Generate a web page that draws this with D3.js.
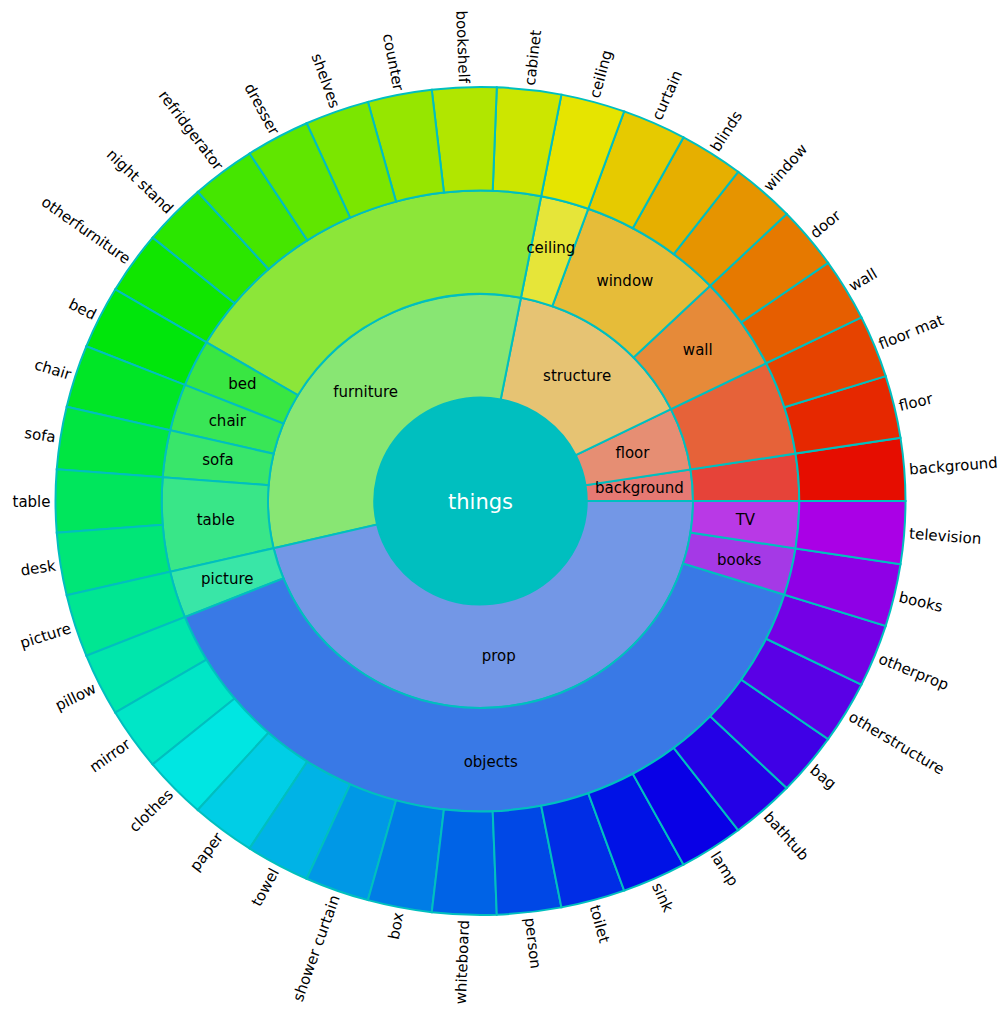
<!DOCTYPE html>
<html>
<head>
<meta charset="utf-8">
<script src="https://cdn.jsdelivr.net/npm/d3@7"></script>
<style>
  body { margin: 0; background: #fff; }
  text { font-family: "DejaVu Sans", sans-serif; }
</style>
</head>
<body>
<svg id="chart" width="1004" height="1011"></svg>
<script>
// Class hierarchy: things -> 4-class grouping -> 13-class grouping -> 40-class labels
const rootName = "things";

const innerNames = ["background", "floor", "structure", "furniture", "prop"];

const midNames = ["background", "floor", "wall", "window", "ceiling", "furniture",
  "bed", "chair", "sofa", "table", "picture", "objects", "books", "TV"];
const midParent = ["background", "floor", "structure", "structure", "structure", "furniture",
  "furniture", "furniture", "furniture", "furniture", "prop", "prop", "prop", "prop"];

const leafNames = ["background", "floor", "floor mat", "wall", "door", "window", "blinds",
  "curtain", "ceiling", "cabinet", "bookshelf", "counter", "shelves", "dresser",
  "refridgerator", "night stand", "otherfurniture", "bed", "chair", "sofa", "table", "desk",
  "picture", "pillow", "mirror", "clothes", "paper", "towel", "shower curtain", "box",
  "whiteboard", "person", "toilet", "sink", "lamp", "bathtub", "bag", "otherstructure",
  "otherprop", "books", "television"];
const leafParent = ["background", "floor", "floor", "wall", "wall", "window", "window",
  "window", "ceiling", "furniture", "furniture", "furniture", "furniture", "furniture",
  "furniture", "furniture", "furniture", "bed", "chair", "sofa", "table", "table",
  "picture", "objects", "objects", "objects", "objects", "objects", "objects", "objects",
  "objects", "objects", "objects", "objects", "objects", "objects", "objects", "objects",
  "objects", "books", "TV"];
const leafValues = [1, 1, 1, 1, 1, 1, 1, 1, 1, 1, 1, 1, 1, 1, 1, 1, 1, 1, 1, 1, 1,
  1, 1, 1, 1, 1, 1, 1, 1, 1, 1, 1, 1, 1, 1, 1, 1, 1, 1, 1, 1];

// ---- layout constants ----
const cx = 480.5, cy = 501;
const ringWidth = 106.25;
const squash = 0.974;          // vertical aspect of the plot area
const labelCy = 501.5, labelSquash = 0.985;
const centerColor = "#00bfbf";
const edgeColor = "#00bfbf";

// ---- build nested tree ----
const tree = {
  name: rootName,
  children: innerNames.map(g => ({
    name: g,
    children: midNames.filter((m, i) => midParent[i] === g).map(m => ({
      name: m,
      children: leafNames
        .map((l, j) => ({ name: l, value: leafValues[j], parent: leafParent[j], idx: j }))
        .filter(l => l.parent === m)
    }))
  }))
};

const root = d3.hierarchy(tree).sum(d => d.children ? 0 : d.value);
d3.partition().size([1, 4])(root);

const nLeaves = root.leaves().length;

// HSV -> hex colour
function hsv(h, s, v) {
  const c = v * s, hp = (h % 360) / 60, x = c * (1 - Math.abs(hp % 2 - 1));
  let r = 0, g = 0, b = 0;
  if (hp < 1) [r, g, b] = [c, x, 0];
  else if (hp < 2) [r, g, b] = [x, c, 0];
  else if (hp < 3) [r, g, b] = [0, c, x];
  else if (hp < 4) [r, g, b] = [0, x, c];
  else if (hp < 5) [r, g, b] = [x, 0, c];
  else [r, g, b] = [c, 0, x];
  const m = v - c;
  return d3.rgb((r + m) * 255, (g + m) * 255, (b + m) * 255).formatHex();
}

// hue taken at the centre of each leaf's slot, over 80% of the hue wheel
const leafHue = i => (i + 0.5) / nLeaves * 0.8 * 360;
const satByDepth = { 1: 0.5, 2: 0.75, 3: 1.0 };

function nodeColor(d) {
  if (d.depth === 0) return centerColor;
  const hue = d3.mean(d.leaves(), l => leafHue(l.data.idx));
  return hsv(hue, satByDepth[d.depth], 0.9);
}

// angle scale: partition x in [0,1] -> counter-clockwise from 3 o'clock
const ang = d3.scaleLinear().domain([0, 1]).range([Math.PI / 2, Math.PI / 2 - 2 * Math.PI]);
const rad = d3.scaleLinear().domain([0, 4]).range([0, 4 * ringWidth]);
const theta = x => x * 2 * Math.PI;   // math angle (ccw from +x)

const arc = d3.arc()
  .startAngle(d => ang(d.x0))
  .endAngle(d => ang(d.x1))
  .innerRadius(d => rad(d.y0))
  .outerRadius(d => rad(d.y1));

const svg = d3.select("#chart");

const shapes = svg.append("g")
  .attr("transform", `translate(${cx},${cy}) scale(1,${squash})`);

shapes.selectAll("path")
  .data(root.descendants())
  .join("path")
  .attr("d", arc)
  .attr("fill", nodeColor)
  .attr("stroke", edgeColor)
  .attr("stroke-width", 2)
  .attr("vector-effect", "non-scaling-stroke");

const labels = svg.append("g").attr("transform", `translate(${cx},${labelCy})`);

// center title
labels.append("text")
  .attr("x", 0).attr("y", 0)
  .attr("text-anchor", "middle")
  .attr("dominant-baseline", "central")
  .attr("font-size", 21)
  .attr("fill", "#fff")
  .text(root.data.name);

// inner ring labels (skip when same as parent)
const inner = root.descendants().filter(d => d.depth > 0 && d.children &&
  d.data.name !== d.parent.data.name);
labels.selectAll("text.inner")
  .data(inner)
  .join("text")
  .attr("class", "inner")
  .attr("x", d => rad((d.y0 + d.y1) / 2) * Math.cos(theta((d.x0 + d.x1) / 2)))
  .attr("y", d => -labelSquash * rad((d.y0 + d.y1) / 2) * Math.sin(theta((d.x0 + d.x1) / 2)))
  .attr("dy", "0.26em")
  .attr("text-anchor", "middle")
  .attr("font-size", 15)
  .attr("fill", "#000")
  .text(d => d.data.name);

// outer labels, radial
const outerR = rad(4) + 5;
labels.selectAll("text.leaf")
  .data(root.leaves())
  .join("text")
  .attr("class", "leaf")
  .attr("transform", d => {
    const t = theta((d.x0 + d.x1) / 2);
    const x = outerR * Math.cos(t), y = -squash * outerR * Math.sin(t);
    let deg = -t * 180 / Math.PI;
    if (Math.cos(t) < 0) deg += 180;
    return `translate(${x},${y}) rotate(${deg})`;
  })
  .attr("text-anchor", d => Math.cos(theta((d.x0 + d.x1) / 2)) < 0 ? "end" : "start")
  .attr("dominant-baseline", "central")
  .attr("font-size", 15)
  .attr("fill", "#000")
  .text(d => d.data.name);
</script>
</body>
</html>
